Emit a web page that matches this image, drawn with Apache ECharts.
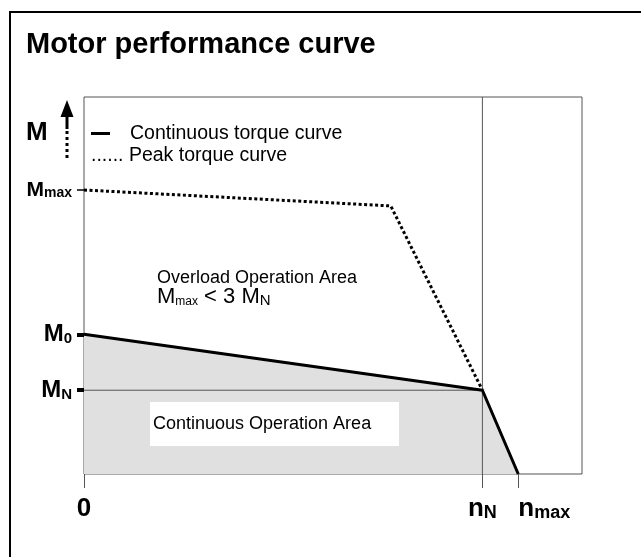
<!DOCTYPE html>
<html><head><meta charset="utf-8">
<script src="https://cdn.jsdelivr.net/npm/echarts@6/dist/echarts.min.js"></script>
<style>html,body{margin:0;padding:0;background:#fff}#c{width:641px;height:557px}</style>
</head><body><div id="c"></div>
<script>
// ---- data ----
const speedTicks = [0, 100, 109];
const speedTickLabels = ['{b|0}', '{n|n}{s|N}', '{n|n}{s|max}'];
const speedCentredTicks = [0, 100];
const speedLeftTicks = [109];
const torqueTicks = [1.0, 1.667, 3.39];
const torqueTickLabels = ['{m|M}{sn|N}', '{m|M}{s0|0}', '{mm|M}{smax|max}'];
const thickTorqueTicks = [1.0, 1.667];
const thinTorqueTicks = [3.39];
const continuousSpeed = [0, 100, 109];
const continuousTorque = [1.667, 1.0, 0];
const peakSpeed = [0, 77, 100];
const peakTorque = [3.39, 3.20, 1.0];
const ratedSpeed = 100;
const ratedTorque = 1.0;
const speedMax = 125;
const torqueMax = 4.5;

const FF = "'Liberation Sans', Arial, sans-serif";
const zip = (a, b) => a.map((v, i) => [v, b[i]]);
const lookup = (vals, labels) => v => {
  for (let i = 0; i < vals.length; i++) if (Math.abs(vals[i] - v) < 1e-6) return labels[i];
  return '';
};
const xRich = {
  b: {fontFamily: FF, fontSize: 26, fontWeight: 'bold', lineHeight: 26, color: '#000'},
  n: {fontFamily: FF, fontSize: 26, fontWeight: 'bold', lineHeight: 26, color: '#000'},
  s: {fontFamily: FF, fontSize: 18, fontWeight: 'bold', lineHeight: 3, verticalAlign: 'bottom', color: '#000'}
};

const chart = echarts.init(document.getElementById('c'), null, {renderer: 'canvas'});
chart.setOption({
  animation: false,
  backgroundColor: '#fff',
  title: {
    text: 'Motor performance curve', left: 26, top: 30.5, padding: 0,
    textStyle: {fontFamily: FF, fontSize: 29, fontWeight: 'bold', color: '#000', lineHeight: 29}
  },
  grid: {left: 84, top: 97, right: 59, bottom: 83, show: true, borderColor: '#555', borderWidth: 1, containLabel: false},
  xAxis: [{
    type: 'value', min: 0, max: speedMax, position: 'bottom',
    axisLine: {show: false}, splitLine: {show: false},
    axisTick: {show: true, customValues: speedTicks, length: 14, lineStyle: {color: '#555', width: 1}},
    axisLabel: {
      customValues: speedCentredTicks, margin: 22, color: '#000', fontFamily: FF, hideOverlap: false,
      formatter: lookup(speedTicks, speedTickLabels), rich: xRich
    }
  }, {
    type: 'value', min: 0, max: speedMax, position: 'bottom',
    axisLine: {show: false}, splitLine: {show: false}, axisTick: {show: false},
    axisLabel: {
      customValues: speedLeftTicks, margin: 22, align: 'left', color: '#000', fontFamily: FF, hideOverlap: false,
      formatter: lookup(speedTicks, speedTickLabels), rich: xRich
    }
  }],
  yAxis: [{
    type: 'value', min: 0, max: torqueMax, position: 'left',
    axisLine: {show: false}, splitLine: {show: false},
    axisTick: {show: true, customValues: thickTorqueTicks, length: 7, lineStyle: {color: '#000', width: 4}},
    axisLabel: {
      customValues: torqueTicks, margin: 12, color: '#000', fontFamily: FF,
      formatter: lookup(torqueTicks, torqueTickLabels),
      rich: {
        m: {fontFamily: FF, fontSize: 24, fontWeight: 'bold', lineHeight: 24, color: '#000'},
        mm: {fontFamily: FF, fontSize: 21, fontWeight: 'bold', lineHeight: 21, color: '#000'},
        sn: {fontFamily: FF, fontSize: 15, fontWeight: 'bold', lineHeight: 9, verticalAlign: 'bottom', color: '#000'},
        s0: {fontFamily: FF, fontSize: 15, fontWeight: 'bold', lineHeight: 10, verticalAlign: 'bottom', color: '#000'},
        smax: {fontFamily: FF, fontSize: 14, fontWeight: 'bold', lineHeight: 7, verticalAlign: 'bottom', color: '#000'}
      }
    }
  }, {
    type: 'value', min: 0, max: torqueMax, position: 'left',
    axisLine: {show: false}, splitLine: {show: false}, axisLabel: {show: false},
    axisTick: {show: true, customValues: thinTorqueTicks, length: 7, lineStyle: {color: '#000', width: 1.5}}
  }],
  series: [
    {type: 'line', data: zip(continuousSpeed, continuousTorque), symbol: 'none', z: 1,
     lineStyle: {width: 0, opacity: 0}, areaStyle: {color: '#e0e0e0', opacity: 1}},
    {type: 'line', data: [[0, ratedTorque], [ratedSpeed, ratedTorque]], symbol: 'none', z: 2,
     lineStyle: {color: '#555', width: 1}},
    {type: 'line', data: [[ratedSpeed, 0], [ratedSpeed, torqueMax]], symbol: 'none', z: 2,
     lineStyle: {color: '#555', width: 1}},
    {type: 'line', data: zip(peakSpeed, peakTorque), symbol: 'none', z: 3,
     lineStyle: {color: '#000', width: 3, type: [3, 2.5], cap: 'butt'}},
    {type: 'line', data: zip(continuousSpeed, continuousTorque), symbol: 'none', z: 4,
     lineStyle: {color: '#000', width: 3}}
  ],
  graphic: [
    {type: 'rect', z: 100, shape: {x: 10, y: 12, width: 700, height: 700}, style: {fill: 'none', stroke: '#000', lineWidth: 2}},
    // axis arrow M
    {type: 'polygon', z: 100, shape: {points: [[67, 100], [60.5, 117], [73.5, 117]]}, style: {fill: '#000'}},
    {type: 'line', z: 100, shape: {x1: 67, y1: 115, x2: 67, y2: 129}, style: {stroke: '#000', lineWidth: 3}},
    {type: 'line', z: 100, shape: {x1: 67, y1: 131, x2: 67, y2: 158}, style: {stroke: '#000', lineWidth: 3, lineDash: [3, 3]}},
    {type: 'text', z: 100, left: 26, top: 120, style: {text: 'M', font: "bold 26px 'Liberation Sans', Arial, sans-serif", fill: '#000'}},
    // legend
    {type: 'line', z: 100, shape: {x1: 91, y1: 133.5, x2: 110, y2: 133.5}, style: {stroke: '#000', lineWidth: 3}},
    {type: 'text', z: 100, x: 130, y: 133.5, style: {text: 'Continuous torque curve', font: "19.5px 'Liberation Sans', Arial, sans-serif", fill: '#000', textVerticalAlign: 'middle'}},
    {type: 'text', z: 100, x: 91, y: 156, style: {text: '...... Peak torque curve', font: "19.5px 'Liberation Sans', Arial, sans-serif", fill: '#000', textVerticalAlign: 'middle'}},
    // overload area
    {type: 'text', z: 100, x: 157, y: 278, style: {text: 'Overload Operation Area', font: "18px 'Liberation Sans', Arial, sans-serif", fill: '#000', textVerticalAlign: 'middle'}},
    {type: 'text', z: 100, x: 157, y: 297, style: {
      text: '{m|M}{s|max}{m| < 3 M}{n|N}', textVerticalAlign: 'middle',
      rich: {
        m: {fontFamily: FF, fontSize: 22, lineHeight: 22, fill: '#000'},
        s: {fontFamily: FF, fontSize: 12, lineHeight: 15, verticalAlign: 'bottom', fill: '#000'},
        n: {fontFamily: FF, fontSize: 15, lineHeight: 19, verticalAlign: 'bottom', fill: '#000'}
      }}},
    // continuous area label
    {type: 'rect', z: 100, shape: {x: 150, y: 402, width: 249, height: 44}, style: {fill: '#fff'}},
    {type: 'text', z: 101, x: 153, y: 424, style: {text: 'Continuous Operation Area', font: "18px 'Liberation Sans', Arial, sans-serif", fill: '#000', textVerticalAlign: 'middle'}}
  ]
});
</script>
</body></html>
